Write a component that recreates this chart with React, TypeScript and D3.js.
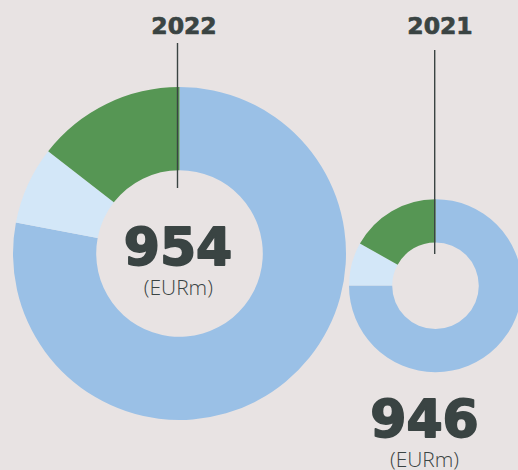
import React from "react";
import * as d3 from "d3";

// Revenue split per year (EURm), in clockwise order from 12 o'clock
const segments = ["Core", "Other", "Growth"];
const values2022 = [744, 72, 138];
const values2021 = [710, 76, 160];
const years = ["2022", "2021"];
const totals = [954, 946];
const unitLabel = "(EURm)";

const colors = ["#9ac0e6", "#d3e7f8", "#569654"];
const ink = "#3a4443";

const W = 518;
const H = 470;

type DonutProps = {
  values: number[];
  cx: number;
  cy: number;
  outer: number;
  inner: number;
};

function Donut({ values, cx, cy, outer, inner }: DonutProps) {
  const pie = d3
    .pie<number>()
    .sort(null)
    .value((d) => d)
    .startAngle(0)
    .endAngle(Math.PI * 2);
  const arc = d3.arc<d3.PieArcDatum<number>>().innerRadius(inner).outerRadius(outer);
  const arcs = pie(values);
  return (
    <g transform={`translate(${cx},${cy})`}>
      {arcs.map((a, i) => (
        <path key={segments[i]} d={arc(a) || ""} fill={colors[i]} />
      ))}
    </g>
  );
}

export default function App() {
  const big = { cx: 179.5, cy: 253.5, outer: 166.5, inner: 83.3 };
  const small = { cx: 435.5, cy: 285.7, outer: 86.5, inner: 43.3 };
  const heavy = "'DejaVu Sans', sans-serif";
  const light = "'Open Sans', sans-serif";
  return (
    <svg
      width={W}
      height={H}
      style={{ position: "absolute", left: 0, top: 0, background: "#e8e3e3" }}
    >
      <rect x={0} y={0} width={W} height={H} fill="#e8e3e3" />
      <Donut values={values2022} {...big} />
      <Donut values={values2021} {...small} />

      {/* year labels with leader lines */}
      <text x={184} y={34.3} textAnchor="middle" fontFamily={heavy} fontWeight={700} fontSize={23.5}
        fill={ink} stroke={ink} strokeWidth={0.7} strokeLinejoin="round">
        {years[0]}
      </text>
      <line x1={177.5} x2={177.5} y1={43} y2={188} stroke={ink} strokeWidth={1.4} />

      <text x={440} y={34.3} textAnchor="middle" fontFamily={heavy} fontWeight={700} fontSize={23.5}
        fill={ink} stroke={ink} strokeWidth={0.7} strokeLinejoin="round">
        {years[1]}
      </text>
      <line x1={434.7} x2={434.7} y1={50} y2={254} stroke={ink} strokeWidth={1.4} />

      {/* totals */}
      <text x={178} y={265} textAnchor="middle" fontFamily={heavy} fontWeight={700} fontSize={52}
        fill={ink} stroke={ink} strokeWidth={1.8} strokeLinejoin="round">
        {totals[0]}
      </text>
      <text x={178.3} y={295} textAnchor="middle" fontFamily={light} fontWeight={300} fontSize={21} fill={ink}>
        {unitLabel}
      </text>

      <text x={424.5} y={436.7} textAnchor="middle" fontFamily={heavy} fontWeight={700} fontSize={52}
        fill={ink} stroke={ink} strokeWidth={1.8} strokeLinejoin="round">
        {totals[1]}
      </text>
      <text x={424.5} y={466.5} textAnchor="middle" fontFamily={light} fontWeight={300} fontSize={21} fill={ink}>
        {unitLabel}
      </text>
    </svg>
  );
}
